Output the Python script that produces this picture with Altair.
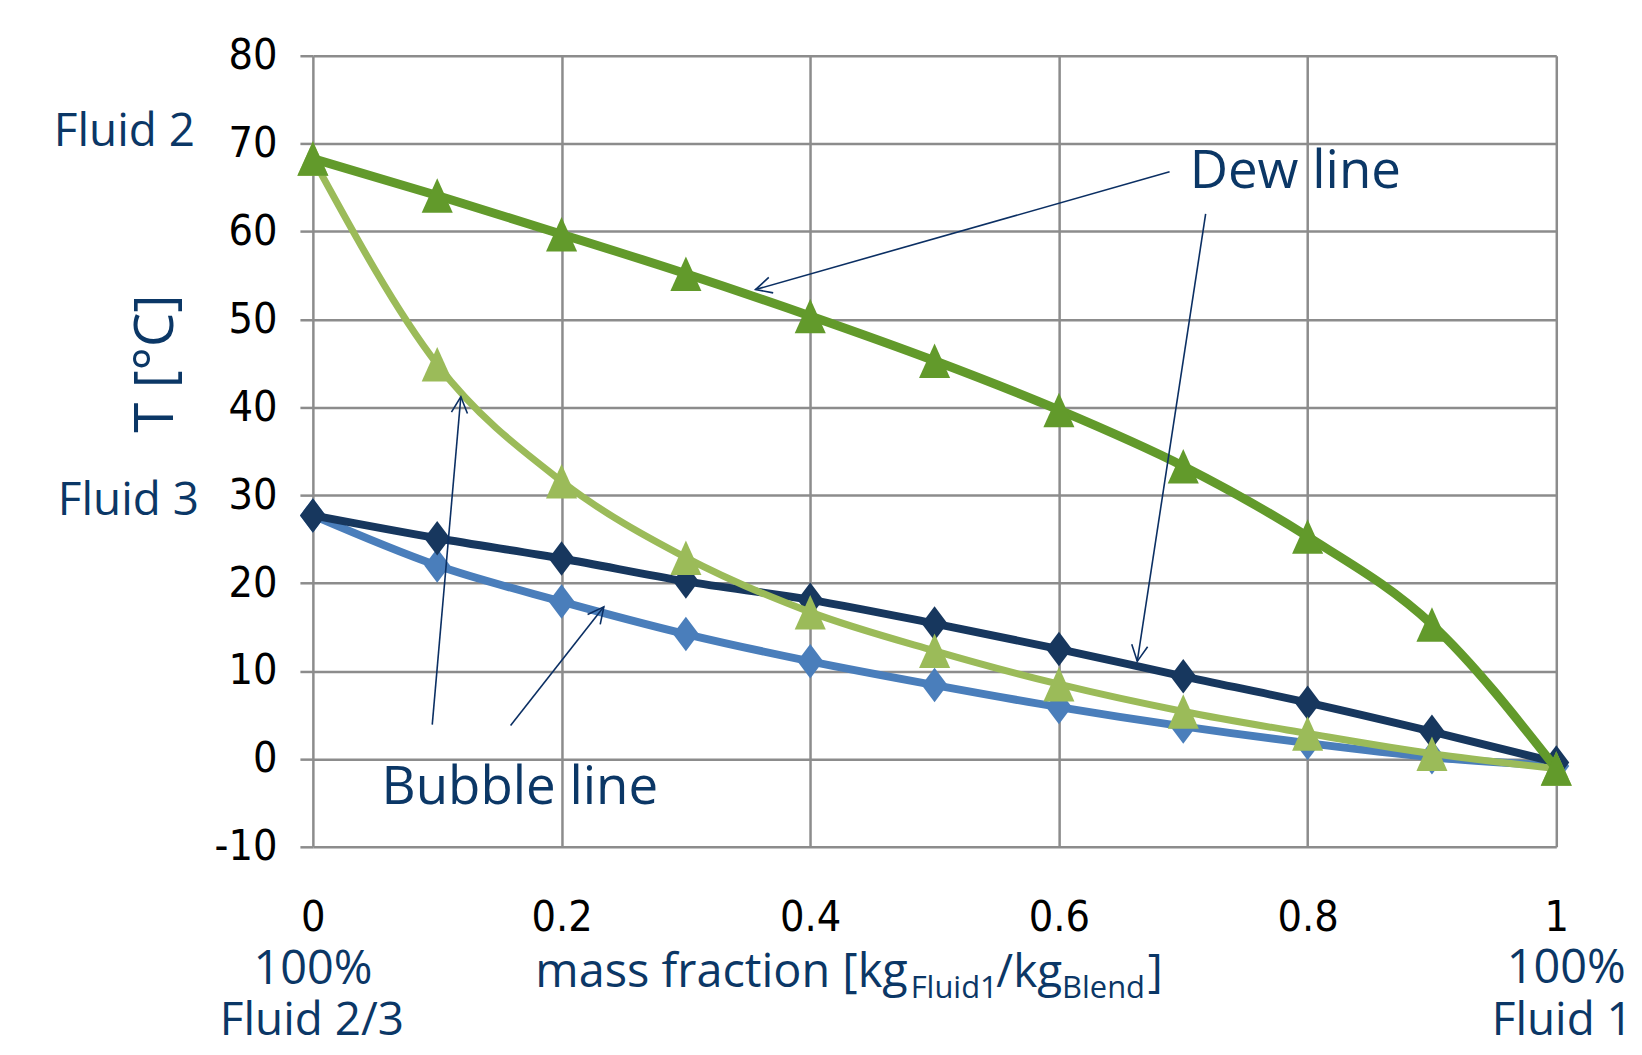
import math
import altair as alt
import pandas as pd

# ---------------- data ----------------
x_vals = [0.0, 0.1, 0.2, 0.3, 0.4, 0.5, 0.6, 0.7, 0.8, 0.9, 1.0]
dew_fluid2 = [68.3, 64.1, 59.7, 55.2, 50.4, 45.3, 39.7, 33.3, 25.3, 15.3, -1.1]
bubble_fluid2 = [68.3, 44.9, 31.6, 22.9, 16.7, 12.3, 8.5, 5.4, 2.9, 0.6, -1.1]
dew_fluid3 = [27.7, 25.1, 22.8, 20.2, 18.1, 15.4, 12.5, 9.4, 6.4, 3.1, -0.4]
bubble_fluid3 = [27.7, 22.0, 17.9, 14.2, 11.1, 8.4, 5.9, 3.7, 1.8, 0.2, -0.8]

x_ticks = [0, 0.2, 0.4, 0.6, 0.8, 1.0]
y_ticks = [-10, 0, 10, 20, 30, 40, 50, 60, 70, 80]

# annotation arrows (data coordinates: start -> head)
arrow_x0 = [0.689, 0.718, 0.096, 0.159]
arrow_y0 = [66.8, 62.0, 3.9, 3.8]
arrow_x1 = [0.356, 0.663, 0.119, 0.234]
arrow_y1 = [53.4, 11.1, 41.2, 17.3]

# ---------------- style ----------------
W, H = 1248, 794
X_DOMAIN = [0, 1]
Y_DOMAIN = [-10, 80]
NAVY_TEXT = "#0B3766"
ARROW_COLOR = "#0B2F63"
GRID = "#8C8C8C"
TICK_FONT = "Liberation Sans Narrow, DejaVu Sans Condensed, sans-serif"
TEXT_FONT = "Open Sans"

DIAMOND = "M0,-1L0.75,0L0,1L-0.75,0Z"
TRIANGLE = "M0,-1L0.9,1L-0.9,1Z"
ARROWHEAD = "M-0.5,1L0,0L0.5,1"

series = [
    ("Bubble line Fluid 3", bubble_fluid3, "#4A7EBB", DIAMOND, 8),
    ("Dew line Fluid 3", dew_fluid3, "#17375E", DIAMOND, 8),
    ("Bubble line Fluid 2", bubble_fluid2, "#9BBB59", TRIANGLE, 7),
    ("Dew line Fluid 2", dew_fluid2, "#629A2B", TRIANGLE, 9),
]

xs = alt.Scale(domain=X_DOMAIN, nice=False, zero=False)
ys = alt.Scale(domain=Y_DOMAIN, nice=False, zero=False)

x_axis = alt.Axis(values=x_ticks, format="~g", grid=True, ticks=False, domain=False,
                  gridColor=GRID, gridWidth=2.5, labelFont=TICK_FONT, labelFontSize=43,
                  labelColor="black", labelPadding=50, title=None, labelFlush=False)
y_axis = alt.Axis(values=y_ticks, grid=True, ticks=True, tickSize=13, tickColor=GRID,
                  tickWidth=2.5, domain=False, gridColor=GRID, gridWidth=2.5,
                  labelFont=TICK_FONT, labelFontSize=43, labelColor="black",
                  labelPadding=23, title=None, labelFlush=False,
                  labelExpr="'' + datum.value")

layers = []
for name, vals, color, shape, sw in series:
    df = pd.DataFrame({"x": x_vals, "T": vals, "series": name})
    base = alt.Chart(df).encode(
        x=alt.X("x:Q", scale=xs, axis=x_axis),
        y=alt.Y("T:Q", scale=ys, axis=y_axis),
    )
    layers.append(base.mark_line(color=color, strokeWidth=sw, interpolate="monotone"))
    layers.append(base.mark_point(shape=shape, filled=True, color=color, size=1200,
                                  opacity=1, strokeWidth=0))

# arrows
px_per_x = W / (X_DOMAIN[1] - X_DOMAIN[0])
px_per_y = H / (Y_DOMAIN[1] - Y_DOMAIN[0])
angles = []
for a, b, c, d in zip(arrow_x0, arrow_y0, arrow_x1, arrow_y1):
    dx = (c - a) * px_per_x
    dy_up = (d - b) * px_per_y
    angles.append(math.degrees(math.atan2(dx, dy_up)) % 360)
arrows = pd.DataFrame({"x0": arrow_x0, "y0": arrow_y0, "x1": arrow_x1,
                       "y1": arrow_y1, "ang": angles})
layers.append(alt.Chart(arrows).mark_rule(color=ARROW_COLOR, strokeWidth=1.6).encode(
    x=alt.X("x0:Q", scale=xs, axis=x_axis), y=alt.Y("y0:Q", scale=ys, axis=y_axis),
    x2="x1:Q", y2="y1:Q"))
layers.append(alt.Chart(arrows).mark_point(shape=ARROWHEAD, filled=False, color=ARROW_COLOR,
                                           strokeWidth=1.6, size=1040, opacity=1).encode(
    x=alt.X("x1:Q", scale=xs, axis=x_axis), y=alt.Y("y1:Q", scale=ys, axis=y_axis),
    angle=alt.Angle("ang:Q", scale=None)))

# text annotations (layout positions in pixels relative to the plot area)
def label(text, px, py, size, align="left", baseline="alphabetic", angle=0, color=NAVY_TEXT):
    kw = dict(align=align, baseline=baseline, font=TEXT_FONT, fontSize=size, color=color)
    if angle:
        kw["angle"] = angle
    return alt.Chart(pd.DataFrame({"t": [text]})).mark_text(**kw).encode(
        x=alt.value(px), y=alt.value(py), text="t:N")

layers += [
    label("Fluid 2", -260, 91, 46),
    label("Fluid 3", -256, 461, 46),
    label("T [°C]", -140, 309, 55, align="center", angle=270),
    label("Dew line", 880, 133, 53),
    label("Bubble line", 69, 751, 53),
    label("100%", 0, 932, 47, align="center"),
    label("Fluid 2/3", -1, 983, 46, align="center"),
    label("100%", 1258, 931, 47, align="center"),
    label("Fluid 1", 1254, 983, 46, align="center"),
    label("mass fraction [kg", 597, 935, 47, align="right"),
    label("Fluid1", 600, 946, 31),
    label("/kg", 686, 935, 46),
    label("Blend", 752, 946, 31),
    label("]", 838, 935, 46),
]

chart = alt.layer(*layers).properties(
    width=W, height=H,
    autosize=alt.AutoSizeParams(type="none"),
    padding={"left": 306, "top": 46, "right": 78, "bottom": 199},
    background="white",
).configure_view(strokeWidth=0)

chart.save("out.html", embed_options={"renderer": "svg", "actions": False})
